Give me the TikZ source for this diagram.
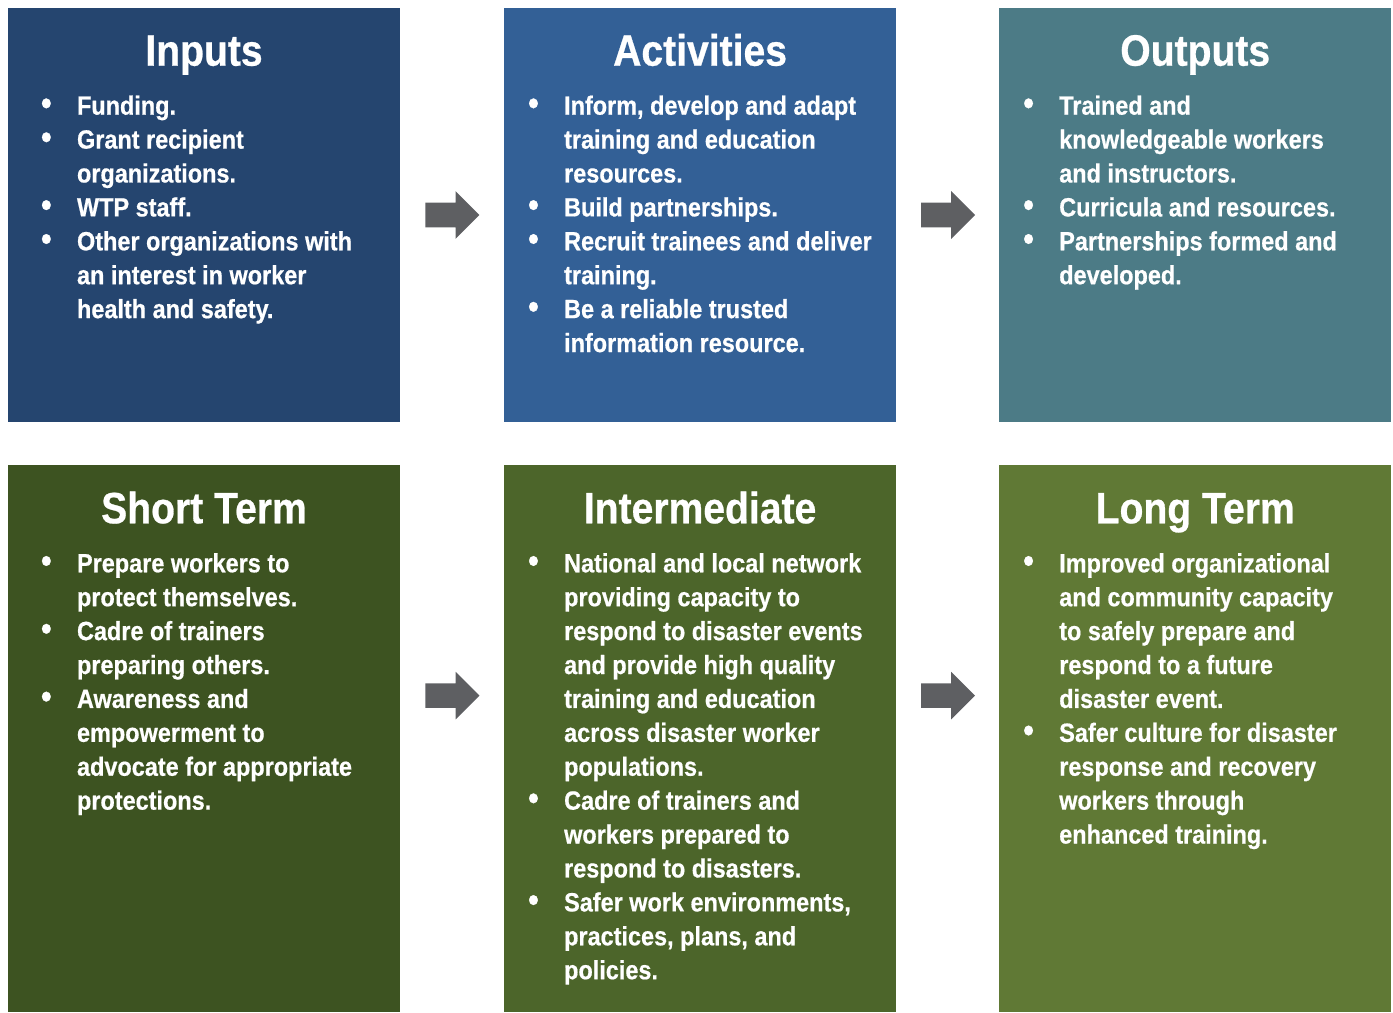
\documentclass[tikz,border=0pt]{standalone}
\usepackage{fontspec}
\setmainfont{Liberation Sans}[FakeStretch=0.89, BoldFeatures={FakeBold=0.6}]
\usepackage{tikz}
\usetikzlibrary{positioning,calc,shapes.arrows}
\definecolor{inputcol}{HTML}{25456F}
\definecolor{activitycol}{HTML}{336096}
\definecolor{outputcol}{HTML}{4C7B86}
\definecolor{shortcol}{HTML}{3D5321}
\definecolor{midcol}{HTML}{4C652A}
\definecolor{longcol}{HTML}{607935}
\definecolor{arrowgray}{HTML}{5E5F62}
\newcommand\headfont{\fontsize{25pt}{30pt}\selectfont\bfseries}
\newcommand\bodyfont{\fontsize{15pt}{19.3pt}\selectfont\bfseries}
\newcommand\bl{\makebox[0.72cm][l]{\scalebox{1.3}{\textbullet}}}
\newenvironment{bullets}{\begin{tabular}[t]{@{}l@{}l@{}}}{\end{tabular}}
\tikzset{bigarrow/.style={single arrow, fill=arrowgray, inner xsep=0, inner ysep=0.24cm, minimum height=1.08cm, single arrow head extend=0.23cm, single arrow head indent=0, anchor=tail, xshift=-0.54cm}}

\begin{document}
\begin{tikzpicture}[x=0.02cm, y=-0.02cm, node distance = 1cm]
\tikzstyle{box} = [rectangle, inner sep=0, minimum width=7.84cm, minimum height=8.28cm]
\tikzstyle{tallbox} = [box, minimum height=10.94cm]
\tikzstyle{heading} = [anchor=base, inner sep=0, text=white, font=\headfont]
\tikzstyle{body} = [anchor=base west, inner sep=0, text=white, font=\bodyfont]
\useasboundingbox (0,0) rectangle (1393,1012);

\node [box, fill=inputcol] (inputs) at (204,215) {};
\node [box, fill=activitycol, right=2.07cm of inputs] (activities) {};
\node [box, fill=outputcol, right=2.05cm of activities] (outputs) {};
\node [tallbox, fill=shortcol, below=0.84cm of inputs] (short) {};
\node [tallbox, fill=midcol, below=0.84cm of activities] (mid) {};
\node [tallbox, fill=longcol, below=0.84cm of outputs] (long) {};

\node [heading, below=1.16cm of inputs.north, anchor=base] (inputs title) {Inputs};
\node [heading, below=1.16cm of activities.north, anchor=base] (activities title) {Activities};
\node [heading, below=1.16cm of outputs.north, anchor=base] (outputs title) {Outputs};
\node [heading, below=1.18cm of short.north, anchor=base] (short title) {Short Term};
\node [heading, below=1.18cm of mid.north, anchor=base] (mid title) {Intermediate};
\node [heading, below=1.18cm of long.north, anchor=base] (long title) {Long Term};

\node [body] (inputs list) at ([xshift=0.66cm, yshift=-2.14cm]inputs.north west) {%
\begin{bullets}
\bl & Funding.\\
\bl & Grant recipient\\
    & organizations.\\
\bl & WTP staff.\\
\bl & Other organizations with\\
    & an interest in worker\\
    & health and safety.
\end{bullets}};
\node [body] (activities list) at ([xshift=0.48cm, yshift=-2.14cm]activities.north west) {%
\begin{bullets}
\bl & Inform, develop and adapt\\
    & training and education\\
    & resources.\\
\bl & Build partnerships.\\
\bl & Recruit trainees and deliver\\
    & training.\\
\bl & Be a reliable trusted\\
    & information resource.
\end{bullets}};
\node [body] (outputs list) at ([xshift=0.48cm, yshift=-2.14cm]outputs.north west) {%
\begin{bullets}
\bl & Trained and\\
    & knowledgeable workers\\
    & and instructors.\\
\bl & Curricula and resources.\\
\bl & Partnerships formed and\\
    & developed.
\end{bullets}};
\node [body] (short list) at ([xshift=0.66cm, yshift=-2.16cm]short.north west) {%
\begin{bullets}
\bl & Prepare workers to\\
    & protect themselves.\\
\bl & Cadre of trainers\\
    & preparing others.\\
\bl & Awareness and\\
    & empowerment to\\
    & advocate for appropriate\\
    & protections.
\end{bullets}};
\node [body] (mid list) at ([xshift=0.48cm, yshift=-2.16cm]mid.north west) {%
\begin{bullets}
\bl & National and local network\\
    & providing capacity to\\
    & respond to disaster events\\
    & and provide high quality\\
    & training and education\\
    & across disaster worker\\
    & populations.\\
\bl & Cadre of trainers and\\
    & workers prepared to\\
    & respond to disasters.\\
\bl & Safer work environments,\\
    & practices, plans, and\\
    & policies.
\end{bullets}};
\node [body] (long list) at ([xshift=0.48cm, yshift=-2.16cm]long.north west) {%
\begin{bullets}
\bl & Improved organizational\\
    & and community capacity\\
    & to safely prepare and\\
    & respond to a future\\
    & disaster event.\\
\bl & Safer culture for disaster\\
    & response and recovery\\
    & workers through\\
    & enhanced training.
\end{bullets}};

\node [bigarrow] (arrow1) at ($(inputs.east)!0.5!(activities.west)$) {};
\node [bigarrow] (arrow2) at ($(activities.east)!0.5!(outputs.west)$) {};
\node [bigarrow, yshift=0.85cm] (arrow3) at ($(short.east)!0.5!(mid.west)$) {};
\node [bigarrow, yshift=0.85cm] (arrow4) at ($(mid.east)!0.5!(long.west)$) {};

\end{tikzpicture}
\end{document}
